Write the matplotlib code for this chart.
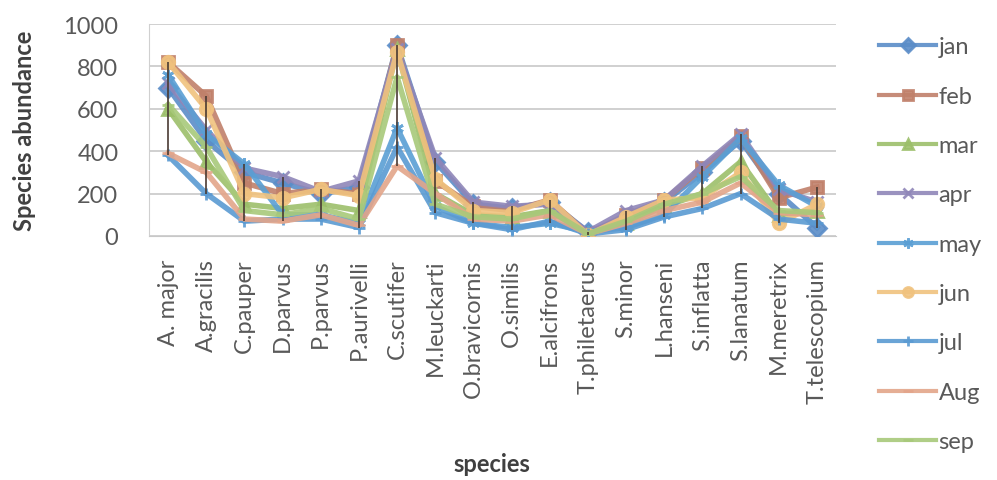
import matplotlib
matplotlib.use("Agg")
import matplotlib.pyplot as plt
import numpy as np

plt.rcParams['font.family'] = ['Lato', 'DejaVu Sans']

species = ["A. major", "A.gracilis", "C.pauper", "D.parvus", "P.parvus", "P.aurivelli",
           "C.scutifer", "M.leuckarti", "O.bravicornis", "O.similis", "E.alcifrons",
           "T.philetaerus", "S.minor", "L.hanseni", "S.inflatta", "S.lanatum",
           "M.meretrix", "T.telescopium"]

months = ["jan", "feb", "mar", "apr", "may", "jun", "jul", "Aug", "sep"]

jan = [700, 450, 300, 250, 200, 230, 900, 350, 150, 130, 160, 20, 80, 160, 300, 450, 200, 40]
feb = [820, 660, 250, 200, 220, 200, 900, 260, 140, 120, 170, 10, 100, 170, 320, 470, 180, 230]
mar = [600, 350, 150, 130, 150, 120, 880, 200, 100, 90, 120, 10, 60, 140, 200, 350, 100, 120]
apr = [720, 500, 320, 280, 210, 260, 880, 370, 160, 140, 150, 20, 120, 170, 330, 480, 220, 160]
may = [760, 480, 340, 100, 100, 60, 510, 140, 60, 40, 60, 20, 40, 100, 280, 460, 240, 140]
jun = [820, 600, 200, 180, 220, 190, 870, 270, 120, 110, 170, 5, 90, 170, 180, 300, 60, 150]
jul = [380, 200, 70, 80, 80, 40, 420, 110, 60, 30, 70, 10, 30, 90, 130, 200, 80, 60]
aug = [390, 300, 80, 70, 100, 50, 330, 200, 80, 70, 100, 10, 60, 120, 160, 250, 110, 100]
sep = [620, 420, 120, 100, 130, 80, 750, 150, 90, 80, 120, 10, 70, 150, 200, 280, 120, 110]

series = [jan, feb, mar, apr, may, jun, jul, aug, sep]
colors = ["#5b8dc8", "#c0806a", "#9cbf6a", "#8f86b8", "#5a9fd4",
          "#f0c27e", "#5a9ad2", "#e3a58a", "#a8c97a"]
markers = ["D", "s", "^", "x", (6, 2, 0), "o", "+", "_", "_"]

fig = plt.figure(figsize=(9.97, 4.81), dpi=100)
ax = fig.add_axes([149 / 997, 1 - 237 / 481, (836 - 149) / 997, (237 - 25) / 481])

x = np.arange(len(species))
data = np.array(series)
# high-low lines
ax.vlines(x, data.min(axis=0), data.max(axis=0), color="#4a3b33", lw=1.2, zorder=5)

for vals, c, m, lab in zip(series, colors, markers, months):
    ax.plot(x, vals, color=c, lw=4, marker=m, ms=9, mew=2, label=lab, zorder=3, alpha=0.9)

ax.set_xlim(-0.5, len(species) - 0.5)
ax.set_ylim(0, 1000)
ax.set_yticks(range(0, 1001, 200))
ax.set_xticks(x)
ax.set_xticklabels(species, rotation=90, fontsize=17, color="#595959", va="top")
ax.tick_params(axis="y", length=0, pad=22, labelsize=17, labelcolor="#595959")
ax.tick_params(axis="x", length=0, pad=16)
ax.grid(axis="y", color="#c8c8c8", lw=1.2)
ax.set_axisbelow(True)
for s in ["top", "right"]:
    ax.spines[s].set_visible(False)
ax.spines["left"].set_color("#d0d0d0")
ax.spines["bottom"].set_color("#c8c8c8")

fig.text(25 / 997, 1 - 131 / 481, "Species abundance", rotation=90, ha="center", va="center",
         fontsize=17, fontweight="bold", color="#404040")
fig.text(492 / 997, 1 - 465 / 481, "species", ha="center", va="center",
         fontsize=17, fontweight="bold", color="#404040")

leg = fig.legend(loc="upper left", bbox_to_anchor=(870 / 997, 1 - 28 / 481), frameon=False,
                 fontsize=17, labelcolor="#595959", handlelength=2.4, handletextpad=0.1,
                 labelspacing=1.2, borderaxespad=0, markerscale=0.8)
for h in leg.legend_handles:
    h.set_linewidth(3)

fig.savefig("out.png", dpi=100)
